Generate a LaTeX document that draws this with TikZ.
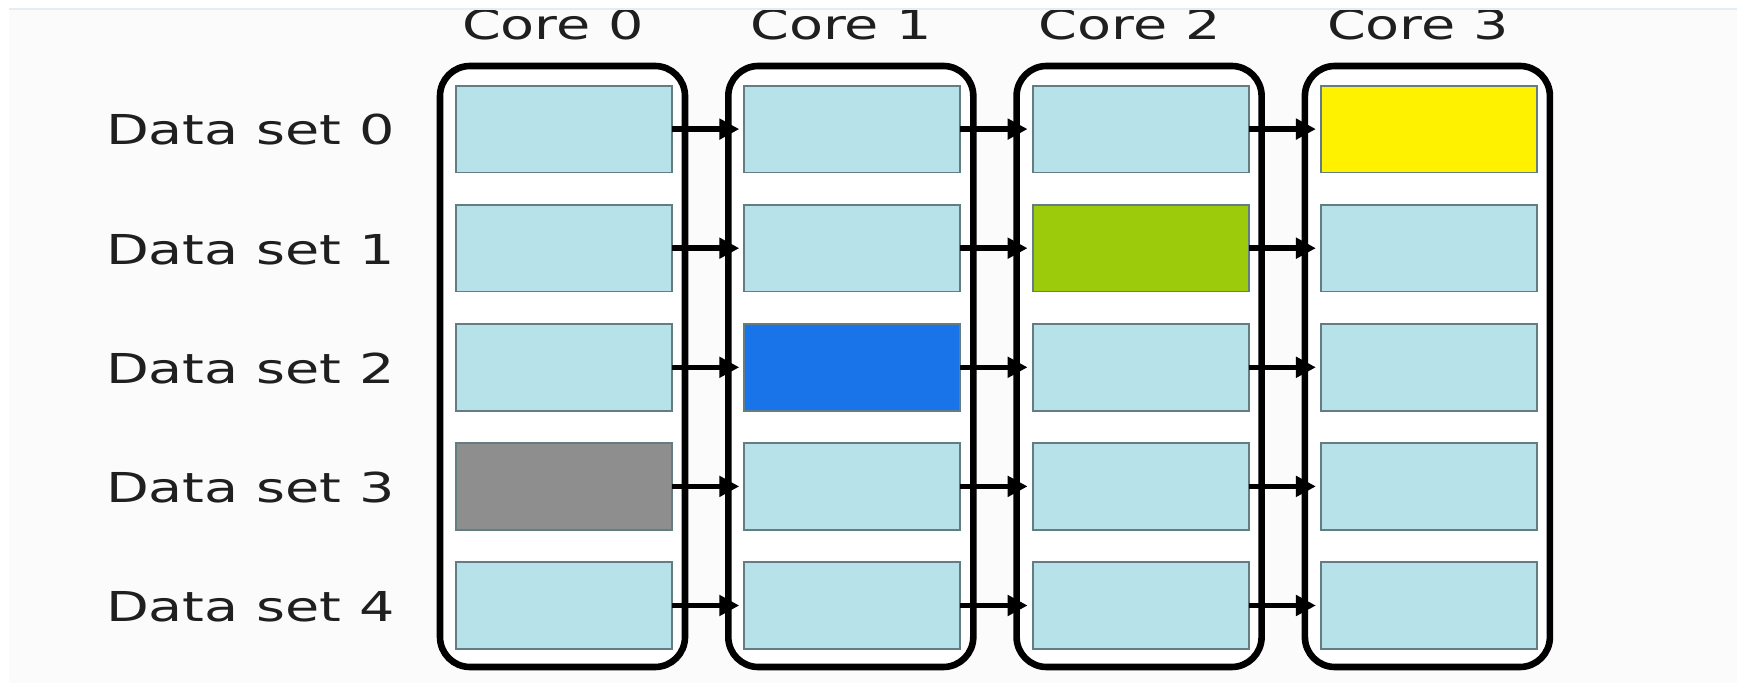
\documentclass[tikz,border=0pt]{standalone}
\usepackage{fontspec}
\setmainfont{DejaVu Sans}[FakeStretch=1.35]
\usetikzlibrary{arrows.meta}
\definecolor{cellfill}{RGB}{183,226,234}
\definecolor{cellline}{RGB}{100,125,130}
\definecolor{hiyellow}{RGB}{255,242,0}
\definecolor{higreen}{RGB}{155,203,10}
\definecolor{hiblue}{RGB}{24,116,232}
\definecolor{higray}{RGB}{142,142,142}
\definecolor{pagebg}{RGB}{251,251,252}
\definecolor{frameline}{RGB}{228,237,246}
\begin{document}
\begin{tikzpicture}[x=0.5pt,y=-0.5pt,
  txt/.style={inner sep=0pt,font=\fontsize{20.6pt}{24pt}\selectfont,text=black!88},
  corebox/.style={draw=black,line width=3.3pt,rounded corners=15pt,fill=white,
    minimum width=122.5pt,minimum height=300.5pt,inner sep=0pt,outer sep=0pt},
  cell/.style={draw=cellline,line width=0.9pt,fill=cellfill,
    minimum width=108pt,minimum height=43.4pt,inner sep=0pt,outer sep=0pt},
  link/.style={line width=2.7pt,-{Triangle[length=10pt,width=10pt]},shorten >=2.5pt}]
  \useasboundingbox (0,0) rectangle (1745,683);
  % page background
  \fill[white] (0,0) rectangle (1745,683);
  \fill[pagebg] (9,9) rectangle (1737,683);
  % core columns
  \foreach \k in {0,...,3}{
    \node[corebox] (core-\k) at ({562.5+288.3*\k},366.5) {};
    \node[txt,anchor=base] (title-\k) at ({553+288.3*\k},40) {Core \k};
  }
  % data set rows
  \foreach \r in {0,...,4}{
    \node[txt,anchor=base east] (label-\r) at (395,{145+119.1*\r}) {Data set \r};
    \foreach \k in {0,...,3}{
      \node[cell] (c-\k-\r) at ({564+288.3*\k},{129.1+119.1*\r}) {};
    }
  }
  % highlighted cells
  \node[cell,fill=hiyellow] (hy) at (c-3-0) {};
  \node[cell,fill=higreen] (hg) at (c-2-1) {};
  \node[cell,fill=hiblue] (hb) at (c-1-2) {};
  \node[cell,fill=higray] (hk) at (c-0-3) {};
  % hand-over arrows between cores
  \foreach \r in {0,...,4}{
    \foreach \k/\n in {0/1,1/2,2/3}{
      \draw[link] (c-\k-\r.east) -- (c-\n-\r.west);
    }
  }
  % top strip of the frame
  \fill[white] (0,0) rectangle (1745,9);
  \draw[frameline,line width=1pt] (9,9.5) -- (1737,9.5);
\end{tikzpicture}
\end{document}
